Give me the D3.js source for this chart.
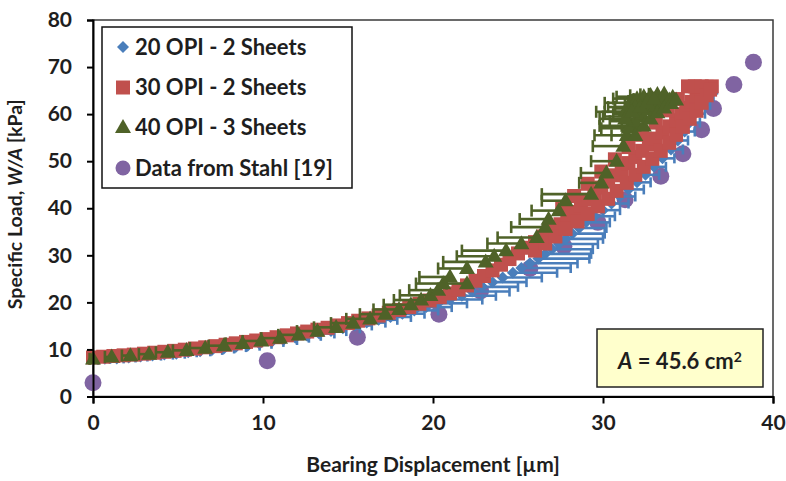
<!DOCTYPE html>
<html>
<head>
<meta charset="utf-8">
<script src="https://cdn.jsdelivr.net/npm/d3@7"></script>
<style>
  body { margin: 0; background: #fff; }
  svg { display: block; }
  text { font-family: Lato, "Open Sans", sans-serif; font-weight: bold; fill: #1e1e1e; }
</style>
</head>
<body>
<svg id="chart" width="786" height="481"></svg>
<script>
// axis ticks
const xTicks = [0, 10, 20, 30, 40];
const yTicks = [0, 10, 20, 30, 40, 50, 60, 70, 80];

const seriesNames = ["20 OPI - 2 Sheets", "30 OPI - 2 Sheets", "40 OPI - 3 Sheets", "Data from Stahl [19]"];

// 20 OPI - 2 sheets (error bars drawn to the right)
const opi20X = [0, 0.7, 1.4, 2.1, 2.8, 3.5, 4.2, 4.9, 5.6, 6.3, 7.0, 7.7, 8.4, 9.1, 9.8, 10.5, 11.2, 11.9, 12.6, 13.3,
  14.0, 14.7, 15.4, 16.1, 16.8, 17.5, 18.2, 18.9, 19.6, 20.3, 21.0, 21.7, 22.3, 22.9, 23.5, 24.1, 24.7, 25.2, 25.7, 26.2,
  26.6, 27.0, 27.4, 27.8, 28.2, 28.6, 29.0, 29.5, 30.0, 30.5, 31.0, 31.5, 32.0, 32.5, 33.0, 33.5, 34.0, 34.4, 34.8, 35.1,
  35.4, 35.7, 36.0, 36.2];
const opi20Y = [7.8, 8.0, 8.1, 8.3, 8.5, 8.7, 8.9, 9.1, 9.4, 9.6, 9.9, 10.2, 10.5, 10.8, 11.2, 11.6, 12.0, 12.5, 12.9, 13.4,
  13.9, 14.5, 15.1, 15.7, 16.3, 16.9, 17.6, 18.3, 19.0, 19.8, 20.6, 21.4, 22.3, 23.3, 24.3, 25.3, 26.3, 27.3, 28.3, 29.3,
  30.3, 31.3, 32.4, 33.5, 34.6, 35.8, 37.0, 38.3, 39.6, 41.0, 42.5, 44.0, 45.5, 47.1, 48.8, 50.6, 52.5, 54.4, 56.3, 58.2,
  60.1, 62.0, 63.8, 65.2];
const opi20Err = [0.3, 0.3, 0.4, 0.4, 0.4, 0.5, 0.5, 0.5, 0.5, 0.6, 0.6, 0.6, 0.6, 0.7, 0.7, 0.7, 0.8, 0.8, 0.8, 0.9,
  0.9, 1.0, 1.0, 1.1, 1.1, 1.2, 1.3, 1.4, 1.5, 1.7, 1.9, 2.0, 2.2, 2.1, 2.0, 2.3, 2.6, 2.9, 2.8, 3.0,
  2.7, 2.4, 2.3, 2.2, 1.9, 1.6, 1.4, 1.2, 1.0, 1.0, 0.9, 0.9, 0.8, 0.8, 0.7, 0.7, 0.7, 0.6, 0.6, 0.6,
  0.6, 0.6, 0.5, 0.5];

// 30 OPI - 2 sheets (main track, then the scatter either side of it above ~30 kPa)
const opi30X = [0, 0.6, 1.2, 1.8, 2.4, 3.0, 3.6, 4.2, 4.8, 5.4, 6.0, 6.6, 7.2, 7.8, 8.4, 9.0, 9.6, 10.2, 10.8, 11.4,
  12.0, 12.6, 13.2, 13.8, 14.4, 15.0, 15.6, 16.2, 16.8, 17.4, 18.0, 18.6, 19.2, 19.8, 20.4, 21.0, 21.5, 22.0, 22.5, 23.0,
  23.5, 24.0, 24.5, 25.0, 25.5, 26.0, 26.5, 27.0, 27.5, 27.9, 28.3, 28.7, 29.1, 29.5, 29.9, 30.3, 30.7, 31.1, 31.5, 31.9,
  32.3, 32.7, 33.1, 33.5, 33.9, 34.3, 34.6, 34.9, 35.2, 35.5, 35.8, 36.1, 36.4, 35.0, 35.4, 35.8,
  26.0, 26.6, 27.2, 27.8, 28.5, 29.1, 29.7, 30.3, 30.8, 31.4, 31.9, 32.4, 32.9, 33.4, 33.9, 34.3, 34.7, 35.1, 35.5, 35.8,
  36.1, 36.3,
  27.6, 28.3, 29.1, 29.9, 30.7, 31.5, 32.3, 33.1, 33.8, 34.4];
const opi30Y = [8.3, 8.45, 8.6, 8.75, 8.9, 9.1, 9.3, 9.5, 9.7, 9.95, 10.2, 10.45, 10.7, 11.0, 11.3, 11.6, 11.9, 12.2, 12.6, 13.0,
  13.4, 13.8, 14.2, 14.6, 15.1, 15.6, 16.1, 16.6, 17.2, 17.8, 18.4, 19.0, 19.7, 20.4, 21.1, 21.9, 22.7, 23.6, 24.6, 25.6,
  26.8, 28.0, 29.2, 30.4, 31.6, 32.8, 34.0, 35.3, 36.6, 37.9, 39.2, 40.5, 41.8, 43.1, 44.4, 45.7, 47.0, 48.3, 49.6, 50.9,
  52.2, 53.5, 54.8, 56.1, 57.4, 58.7, 60.0, 61.3, 62.6, 63.9, 65.0, 65.8, 65.9, 65.9, 65.9, 65.9,
  31.0, 32.5, 34.0, 35.6, 37.2, 38.8, 40.4, 42.0, 43.7, 45.4, 47.1, 48.8, 50.5, 52.2, 53.9, 55.6, 57.3, 59.0, 60.7, 62.4,
  64.0, 65.2,
  40.0, 42.6, 45.2, 47.8, 50.4, 53.0, 55.6, 58.2, 60.8, 63.2];

// 40 OPI - 3 sheets (error bars drawn to the left)
const opi40X = [0, 1.1, 2.2, 3.3, 4.4, 5.5, 6.6, 7.7, 8.8, 9.9, 11.0, 12.1, 13.2, 14.3, 15.3, 16.3, 17.2, 18.0, 18.7, 19.3,
  19.85, 20.3, 20.6, 21.0, 22.0, 22.0, 23.1, 23.6, 24.3, 25.2, 26.1, 26.6, 26.8, 27.4, 27.8, 29.3, 29.9, 30.2, 30.8, 31.2,
  31.4, 31.8, 32.1, 32.5, 32.9, 33.3, 33.7, 34.1, 31.6, 32.0, 32.4, 32.8, 33.2, 33.6, 31.3, 31.9,
  31.5, 31.9, 32.3, 32.7, 33.1, 33.5, 33.9, 31.3, 31.7, 32.2, 32.6, 33.0, 31.9, 32.4, 32.8, 33.2, 33.6, 34.0, 34.3];
const opi40Y = [8.0, 8.4, 8.7, 9.0, 9.4, 9.8, 10.3, 10.8, 11.3, 11.8, 12.4, 13.1, 13.9, 14.7, 15.6, 16.5, 17.5, 18.5, 19.5, 20.5,
  21.5, 22.6, 24.0, 25.4, 24.0, 27.2, 28.6, 29.8, 31.0, 32.5, 33.8, 36.0, 37.7, 39.5, 41.6, 43.0, 45.4, 47.5, 50.0, 53.2,
  55.5, 57.5, 59.5, 61.2, 62.0, 62.8, 63.3, 63.6, 62.4, 63.3, 63.7, 64.0, 64.2, 64.3, 60.5, 61.5,
  57.0, 58.5, 60.0, 61.0, 61.8, 62.5, 63.0, 59.0, 60.5, 61.5, 62.5, 63.2, 55.5, 57.5, 59.0, 60.3, 61.3, 62.3, 63.0];
const opi40Err = [0.2, 0.4, 0.5, 0.6, 0.7, 0.8, 0.9, 0.9, 1.0, 1.1, 1.1, 1.2, 1.2, 1.3, 1.3, 1.4, 1.5, 1.5, 1.6, 1.6,
  1.8, 1.7, 1.6, 1.8, 1.2, 1.7, 2.5, 2.2, 2.6, 2.0, 2.3, 2.0, 1.7, 1.6, 1.4, 2.9, 1.3, 1.5, 1.5, 1.8,
  1.9, 2.0, 2.1, 1.8, 1.6, 1.8, 1.5, 1.3, 1.5, 1.4, 1.6, 1.2, 1.0, 0.9, 1.7, 1.6,
  1.6, 1.5, 1.7, 1.4, 1.2, 1.1, 1.0, 1.5, 1.6, 1.5, 1.3, 1.2, 1.4, 1.3, 1.2, 1.1, 1.0, 0.9, 0.8];

// Stahl [19]
const stahlX = [0, 10.25, 15.55, 20.35, 22.8, 25.7, 27.7, 29.7, 31.3, 33.4, 34.7, 35.8, 36.5, 37.7, 38.85];
const stahlY = [2.9, 7.6, 12.6, 17.5, 22.4, 27.2, 31.9, 37.0, 41.8, 46.8, 51.6, 56.7, 61.2, 66.3, 71.0];

const colors = { blue: "#4a7ebb", red: "#c0504d", green: "#4f6228", purple: "#8064a2" };

const margin = { top: 20, right: 13, bottom: 84.5, left: 93 };
const width = 786 - margin.left - margin.right;
const height = 481 - margin.top - margin.bottom;

const svg = d3.select("#chart");
const g = svg.append("g").attr("transform", `translate(${margin.left},${margin.top})`);

const x = d3.scaleLinear().domain([0, 40]).range([0, width]);
const y = d3.scaleLinear().domain([0, 80]).range([height, 0]);

const zip = (xs, ys, es) => xs.map((v, i) => ({ x: v, y: ys[i], e: es ? es[i] : 0 }));
const blue = zip(opi20X, opi20Y, opi20Err);
const red = zip(opi30X, opi30Y);
const green = zip(opi40X, opi40Y, opi40Err);
const stahl = zip(stahlX, stahlY);

// plot frame
g.append("rect").attr("width", width).attr("height", height)
  .attr("fill", "none").attr("stroke", "#3a3a3a").attr("stroke-width", 1.5);

// marker paths
const diamond = (s) => `M0,${-s}L${s},0L0,${s}L${-s},0Z`;
const square = (s) => `M${-s},${-s}H${s}V${s}H${-s}Z`;
const triangle = (w, h) => `M0,${-h * 0.6}L${w / 2},${h * 0.4}L${-w / 2},${h * 0.4}Z`;

const marks = g.append("g");

// Stahl first so later series sit over it
marks.append("g").selectAll("circle").data(stahl).join("circle")
  .attr("cx", d => x(d.x)).attr("cy", d => y(d.y)).attr("r", 8.5)
  .attr("fill", colors.purple);

function errBars(sel, data, dir, color, cap) {
  const eg = sel.append("g").attr("stroke", color).attr("stroke-width", 2.6).attr("fill", "none");
  eg.selectAll("line.bar").data(data).join("line").attr("class", "bar")
    .attr("x1", d => x(d.x)).attr("x2", d => x(d.x + dir * d.e))
    .attr("y1", d => y(d.y)).attr("y2", d => y(d.y));
  eg.selectAll("line.cap").data(data).join("line").attr("class", "cap")
    .attr("x1", d => x(d.x + dir * d.e)).attr("x2", d => x(d.x + dir * d.e))
    .attr("y1", d => y(d.y) - cap).attr("y2", d => y(d.y) + cap);
}

errBars(marks, blue, 1, colors.blue, 5);
marks.append("g").selectAll("path").data(blue).join("path")
  .attr("transform", d => `translate(${x(d.x)},${y(d.y)})`)
  .attr("d", diamond(6)).attr("fill", colors.blue);

marks.append("g").selectAll("path").data(red).join("path")
  .attr("transform", d => `translate(${x(d.x)},${y(d.y)})`)
  .attr("d", square(7)).attr("fill", colors.red);

errBars(marks, green, -1, colors.green, 6);
marks.append("g").selectAll("path").data(green).join("path")
  .attr("transform", d => `translate(${x(d.x)},${y(d.y)})`)
  .attr("d", triangle(16, 14)).attr("fill", colors.green);

// axes
const xAxis = g.append("g").attr("transform", `translate(0,${height})`)
  .call(d3.axisBottom(x).tickValues(xTicks).tickSize(7).tickPadding(12));
const yAxis = g.append("g")
  .call(d3.axisLeft(y).tickValues(yTicks).tickSize(6).tickPadding(15));
[xAxis, yAxis].forEach(a => {
  a.select(".domain").attr("stroke", "#000").attr("stroke-width", 2);
  a.selectAll(".tick line").attr("stroke", "#000").attr("stroke-width", 2);
  a.selectAll(".tick text").style("font-family", "Lato, sans-serif").style("font-weight", "bold")
    .style("font-size", "21px").attr("fill", "#1e1e1e");
});

// axis titles
svg.append("text").attr("x", margin.left + width / 2).attr("y", 472)
  .attr("text-anchor", "middle").style("font-size", "21px")
  .text("Bearing Displacement [µm]");

const yt = svg.append("text").attr("transform", `translate(22,${margin.top + height / 2 - 4}) rotate(-90)`)
  .attr("text-anchor", "middle").style("font-size", "19.5px");
yt.append("tspan").text("Specific Load, ");
yt.append("tspan").style("font-style", "italic").text("W/A");
yt.append("tspan").text(" [kPa]");

// legend
const legend = svg.append("g");
legend.append("rect").attr("x", 102).attr("y", 27).attr("width", 250).attr("height", 161)
  .attr("fill", "#fff").attr("stroke", "#111").attr("stroke-width", 1.5);
const legendShapes = [
  { d: diamond(6), c: colors.blue },
  { d: square(7), c: colors.red },
  { d: triangle(16, 14), c: colors.green },
  { d: "M7.5,0A7.5,7.5 0 1,1 -7.5,0A7.5,7.5 0 1,1 7.5,0Z", c: colors.purple }
];
const rows = [47, 87.5, 127.5, 168];
seriesNames.forEach((name, i) => {
  legend.append("path").attr("transform", `translate(123,${rows[i]})`)
    .attr("d", legendShapes[i].d).attr("fill", legendShapes[i].c);
  legend.append("text").attr("x", 135).attr("y", rows[i]).attr("dy", "0.36em")
    .style("font-size", "22px").text(name);
});

// area annotation
const note = svg.append("g");
note.append("rect").attr("x", 597).attr("y", 329).attr("width", 166).attr("height", 58)
  .attr("fill", "#ffffcc").attr("stroke", "#222").attr("stroke-width", 1.5);
const nt = note.append("text").attr("x", 680).attr("y", 362).attr("dy", "0.3em")
  .attr("text-anchor", "middle").style("font-size", "22px");
nt.append("tspan").style("font-style", "italic").text("A");
nt.append("tspan").text(" = 45.6 cm");
nt.append("tspan").attr("dy", "-0.45em").style("font-size", "14px").text("2");
</script>
</body>
</html>
